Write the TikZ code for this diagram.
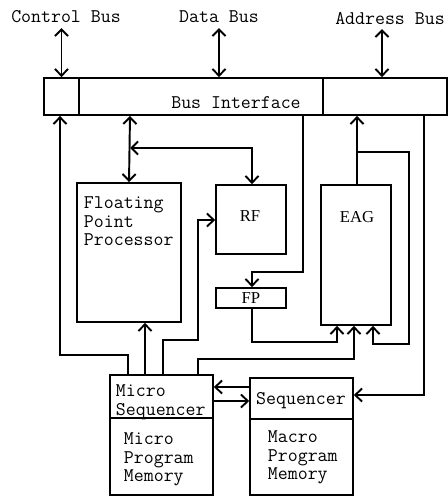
\documentclass[tikz,border=0pt]{standalone}
\usepackage{fontspec}
\newfontfamily\tagfont{Liberation Serif}
\usetikzlibrary{arrows.meta}

\begin{document}
\begin{tikzpicture}[x=0.02cm,y=-0.02cm,line width=1.1pt,
  >={Straight Barb[length=3.8pt,width=7.5pt]},
  box/.style={draw,inner sep=0pt},
  txt/.style={inner sep=0pt,align=left,font=\ttfamily\fontsize{11}{10.5}\selectfont},
  tag/.style={inner sep=0pt,font=\tagfont\fontsize{9.5}{10}\selectfont}]
\useasboundingbox (0,0) rectangle (448,498);

% bus labels
\node[txt] (ctlbus) at (66,17) {Control Bus};
\node[txt] (databus) at (219,17) {Data Bus};
\node[txt] (addrbus) at (390,19) {Address Bus};

% bus interface
\node[box,minimum width=0.70cm,minimum height=0.74cm] (ctlbox) at (61.5,96.5) {};
\node[box,minimum width=4.88cm,minimum height=0.74cm] (bimain) at (201,96.5) {};
\node[box,minimum width=2.48cm,minimum height=0.74cm] (addrbox) at (385,96.5) {};
\node[txt] (bilabel) at (236,103) {Bus Interface};

% units
\node[box,minimum width=2.08cm,minimum height=2.78cm] (fpp) at (129,252.5) {};
\node[txt,anchor=north west] at (83,196) {Floating\\Point\\Processor};
\node[box,minimum width=1.40cm,minimum height=1.38cm] (rf) at (251,219.5) {};
\node[tag] at (250,216) {RF};
\node[box,minimum width=1.40cm,minimum height=0.40cm] (fp) at (251,298) {};
\node[tag] at (251,298) {FP};
\node[box,minimum width=1.40cm,minimum height=2.80cm] (eag) at (356,255) {};
\node[tag] at (357,217) {EAG};

% sequencers and memories
\node[box,minimum width=2.06cm,minimum height=0.86cm] (mseq) at (161.5,396.5) {};
\node[txt,anchor=north west] at (115,384) {Micro\\Sequencer};
\node[box,minimum width=2.06cm,minimum height=1.54cm] (mmem) at (161.5,456.5) {};
\node[txt,anchor=north west] at (123,432) {Micro\\Program\\Memory};
\node[box,minimum width=2.06cm,minimum height=0.82cm] (seq) at (301.5,398.5) {};
\node[txt] at (301,401) {Sequencer};
\node[box,minimum width=2.06cm,minimum height=1.52cm] (macmem) at (301.5,457) {};
\node[txt,anchor=north west] at (267,430) {Macro\\Program\\Memory};

% external buses
\draw[<->] (ctlbox.north |- 0,28) -- (ctlbox.north);
\draw[<->] (databus.south |- 0,28) -- (databus.south |- bimain.north);
\draw[<->] (382,29) -- (382,0 |- addrbox.north);

% data path
\draw[<->] (130,0 |- bimain.south) -- (fpp.north);
\draw[<->] (130,148) -- (252,148) -- (252,0 |- rf.north);
\draw[->] (128,0 |- mseq.north) -- (128,355) -- (60,355) -- (60,0 |- ctlbox.south);
\draw[->] (145,0 |- mseq.north) -- (145,0 |- fpp.south);
\draw[->] (163,0 |- mseq.north) -- (163,340) -- (198,340) -- (198,220) -- (rf.west |- 0,220);
\draw[->] (303,0 |- bimain.south) -- (303,272) -- (252,272) -- (252,0 |- fp.north);
\draw[->] (252,0 |- fp.south) -- (252,342) -- (337,342) -- (337,0 |- eag.south);
\draw[->] (357,0 |- eag.north) -- (357,0 |- addrbox.south);
\draw[->] (357,152) -- (409,152) -- (409,344) -- (373,344) -- (373,0 |- eag.south);
\draw[->] (198,0 |- mseq.north) -- (198,359) -- (354,359) -- (354,0 |- eag.south);
\draw[->] (424,0 |- addrbox.south) -- (424,395) -- (seq.east |- 0,395);
\draw[->] (seq.west |- 0,387) -- (mseq.east |- 0,387);
\draw[->] (mseq.east |- 0,401) -- (seq.west |- 0,401);
\end{tikzpicture}
\end{document}
